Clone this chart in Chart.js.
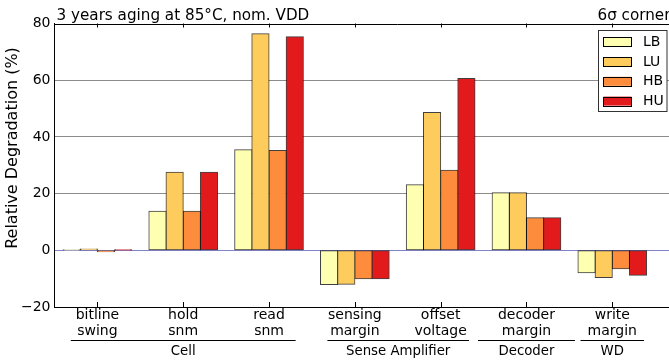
<!DOCTYPE html>
<html><head><meta charset="utf-8">
<script src="https://cdn.jsdelivr.net/npm/chart.js@4/dist/chart.umd.min.js"></script>
<style>
html,body{margin:0;padding:0;overflow:hidden;background:#fff;width:669px;height:362px}
#wrap{position:relative;width:741px;height:362px}
canvas{display:block}
</style></head>
<body><div id="wrap"><canvas id="c" width="741" height="362"></canvas></div>
<script>
const categories = [['bitline','swing'],['hold','snm'],['read','snm'],['sensing','margin'],['offset','voltage'],['decoder','margin'],['write','margin']];
const seriesNames = ['LB','LU','HB','HU'];
const LB = [0.1, 13.8, 35.5, -12.1, 23.1, 20.3, -7.9];
const LU = [0.5, 27.5, 76.4, -12.0, 48.6, 20.3, -9.6];
const HB = [-0.5, 13.8, 35.2, -10.0, 28.2, 11.5, -6.5];
const HU = [0.1, 27.5, 75.3, -10.0, 60.6, 11.5, -8.8];
const yTicks = [-20, 0, 20, 40, 60, 80];
const groupNames = ['Cell', 'Sense Amplifier', 'Decoder', 'WD'];
const groupFirst = [0, 3, 5, 6];
const groupLast = [2, 4, 5, 6];
const titleLeft = '3 years aging at 85°C, nom. VDD';
const titleRight = '6σ corner';
const yTitle = 'Relative Degradation (%)';

const colors = ['#ffffb2', '#fecc5c', '#fd8d3c', '#e31a1c'];
const FONT = "'DejaVu Sans', 'Liberation Sans', sans-serif";
const seriesData = [LB, LU, HB, HU];

// layout-only extents of the group underline (in category units, relative to first/last category)
const groupPadL = [0.31, 0.32, 0.565, 0.37];
const groupPadR = [0.31, 0.33, 0.565, 0.37];

const deco = {
  id: 'deco',
  afterDraw(chart) {
    const {ctx, chartArea: a, scales: {x, y}} = chart;
    ctx.save();
    ctx.strokeStyle = '#000';
    ctx.lineWidth = 1;
    // top spine
    const ty = Math.round(a.top) + 0.5;
    ctx.beginPath();
    ctx.moveTo(a.left, ty); ctx.lineTo(a.right, ty);
    // category ticks (inward) on top and bottom
    for (let i = 0; i < categories.length; i++) {
      const px = Math.round(x.getPixelForValue(i)) + 0.5;
      ctx.moveTo(px, a.top); ctx.lineTo(px, a.top + 4);
      ctx.moveTo(px, a.bottom); ctx.lineTo(px, a.bottom - 5);
    }
    ctx.stroke();

    // group underlines and names
    const step = x.getPixelForValue(1) - x.getPixelForValue(0);
    ctx.font = '13.3px ' + FONT;
    ctx.fillStyle = '#000';
    ctx.textAlign = 'center';
    ctx.textBaseline = 'alphabetic';
    for (let g = 0; g < groupNames.length; g++) {
      const x0 = x.getPixelForValue(groupFirst[g]) - groupPadL[g] * step;
      const x1 = x.getPixelForValue(groupLast[g]) + groupPadR[g] * step;
      ctx.beginPath();
      ctx.moveTo(x0, 340.5); ctx.lineTo(x1, 340.5);
      ctx.stroke();
      ctx.fillText(groupNames[g], (x0 + x1) / 2, 355);
    }

    // titles
    ctx.font = '15.2px ' + FONT;
    ctx.textAlign = 'left';
    ctx.fillText(titleLeft, 56.5, 19.5);
    ctx.fillText(titleRight, 597.5, 19.5);

    // y title
    ctx.save();
    ctx.font = '16px ' + FONT;
    ctx.translate(13, 148);
    ctx.rotate(-Math.PI / 2);
    ctx.textAlign = 'center';
    ctx.textBaseline = 'middle';
    ctx.fillText(yTitle, 0, 0);
    ctx.restore();

    // legend
    ctx.font = '14px ' + FONT;
    const lx = 598.5, ly = 30.5, lw = 68.5, lh = 81;
    ctx.fillStyle = '#fff';
    ctx.fillRect(lx, ly, lw, lh);
    ctx.strokeStyle = '#333';
    ctx.strokeRect(lx, ly, lw, lh);
    chart.data.datasets.forEach((ds, i) => {
      const cy = 41.7 + i * 19.8;
      ctx.fillStyle = ds.backgroundColor;
      ctx.fillRect(603.5, cy - 4.5, 28, 9);
      ctx.strokeStyle = '#000';
      ctx.strokeRect(603.5, Math.round(cy - 4.5) + 0.5, 28, 9);
      ctx.fillStyle = '#000';
      ctx.textAlign = 'left';
      ctx.textBaseline = 'middle';
      ctx.fillText(ds.label, 643, cy + 0.5);
    });
    ctx.restore();
  }
};

new Chart(document.getElementById('c'), {
  type: 'bar',
  data: {
    labels: categories.concat(['']),
    datasets: seriesNames.map((n, i) => ({
      label: n,
      data: seriesData[i],
      backgroundColor: colors[i],
      borderColor: 'rgba(0,0,0,0.75)',
      borderWidth: 1,
      borderSkipped: false,
      inflateAmount: 0.5,
      categoryPercentage: 0.8,
      barPercentage: 1.0
    }))
  },
  options: {
    responsive: false,
    animation: false,
    devicePixelRatio: 1,
    layout: {padding: {top: 23.5, right: 0, left: 0, bottom: 0}},
    plugins: {legend: {display: false}, title: {display: false}, tooltip: {enabled: false}},
    scales: {
      x: {
        grid: {display: false, drawTicks: false},
        border: {display: true, color: '#000', width: 1},
        ticks: {
          autoSkip: false, maxRotation: 0, padding: 1, color: '#000',
          font: {family: FONT, size: 14, lineHeight: 1.1}
        },
        afterFit: s => { s.height = 55; }
      },
      y: {
        z: 1,
        min: -20, max: 80,
        afterBuildTicks: s => { s.ticks = yTicks.map(v => ({value: v})); },
        grid: {
          drawTicks: false,
          lineWidth: 1,
          color: c => c.tick.value === 0 ? '#8282c8' : ((c.tick.value === 80 || c.tick.value === -20) ? 'rgba(0,0,0,0)' : '#8c8c8c')
        },
        border: {display: true, color: '#000', width: 1},
        ticks: {
          padding: 4, color: '#000',
          font: {family: FONT, size: 14},
          callback: v => String(v).replace('-', '\u2212')
        },
        afterFit: s => { s.width = 54.5; }
      }
    }
  },
  plugins: [deco]
});
</script>
</body></html>
